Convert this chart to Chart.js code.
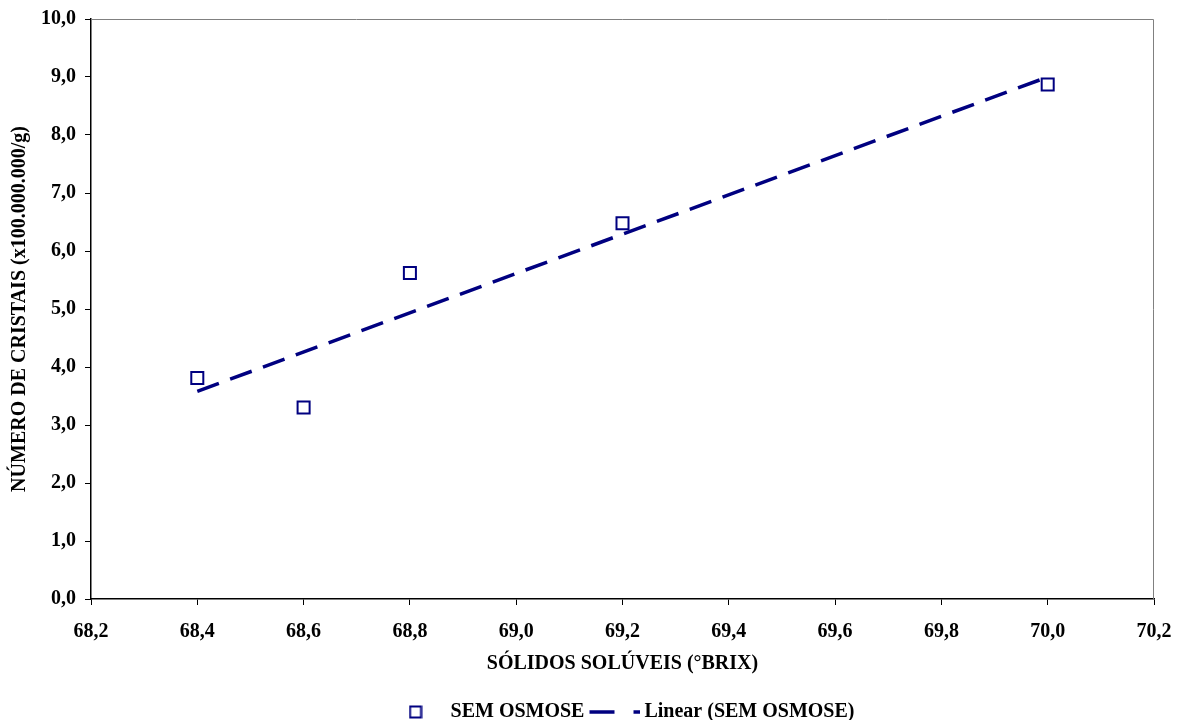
<!DOCTYPE html>
<html lang="pt">
<head>
  <meta charset="UTF-8" />
  <title>Número de cristais x sólidos solúveis</title>
  <script src="https://cdn.jsdelivr.net/npm/chart.js"></script>
  <style>
    html, body { margin: 0; padding: 0; background: #fff; }
    .chart-wrapper { width: 1182px; height: 720px; position: relative; }
  </style>
</head>
<body>
  <div class="chart-wrapper">
    <canvas id="grafico"></canvas>
  </div>

  <script>
    // dados
    const brix = [68.4, 68.6, 68.8, 69.2, 70.0];
    const cristais = [3.81, 3.30, 5.62, 6.48, 8.87];
    // extremos da linha de tendência (Linear)
    const brixTendencia = [68.4, 70.0];
    const cristaisTendencia = [3.58, 9.0];

    const azul = "#000080";
    const fonte = "'Liberation Serif', 'Times New Roman', serif";

    const pontos = brix.map((x, i) => ({ x, y: cristais[i] }));
    const tendencia = brixTendencia.map((x, i) => ({ x, y: cristaisTendencia[i] }));

    const virgula = (v) => Number(v).toFixed(1).replace(".", ",");

    // simbolos da legenda
    function simboloQuadrado() {
      const c = document.createElement("canvas");
      c.width = 14; c.height = 14;
      const g = c.getContext("2d");
      g.fillStyle = "#fff";
      g.fillRect(0, 0, 14, 14);
      g.strokeStyle = azul;
      g.lineWidth = 2;
      g.strokeRect(1.5, 1.5, 11, 11);
      return c;
    }
    function simboloLinha() {
      // 11 px transparentes à esquerda para afastar do texto anterior
      const c = document.createElement("canvas");
      c.width = 62; c.height = 4;
      const g = c.getContext("2d");
      g.strokeStyle = azul;
      g.lineWidth = 3.5;
      g.setLineDash([25, 19]);
      g.beginPath();
      g.moveTo(11, 2);
      g.lineTo(62, 2);
      g.stroke();
      return c;
    }

    // moldura cinza no topo e à direita
    const moldura = {
      id: "moldura",
      beforeDatasetsDraw(chart) {
        const a = chart.chartArea;
        const ctx = chart.ctx;
        ctx.save();
        ctx.strokeStyle = "#808080";
        ctx.lineWidth = 1;
        ctx.beginPath();
        ctx.moveTo(a.left, a.top + 0.5);
        ctx.lineTo(a.right - 0.5, a.top + 0.5);
        ctx.lineTo(a.right - 0.5, a.bottom);
        ctx.stroke();
        ctx.restore();
      }
    };

    const ctx = document.getElementById("grafico").getContext("2d");
    const grafico = new Chart(ctx, {
      type: "scatter",
      data: {
        datasets: [
          {
            label: "SEM OSMOSE",
            data: pontos,
            pointStyle: "rect",
            pointRadius: 8.5,
            pointHoverRadius: 8.5,
            pointBorderWidth: 2,
            borderColor: azul,
            backgroundColor: "#fff",
            legendSimbolo: simboloQuadrado()
          },
          {
            label: "Linear (SEM OSMOSE)",
            type: "line",
            data: tendencia,
            showLine: true,
            borderColor: azul,
            borderWidth: 3.5,
            borderDash: [23, 12],
            pointRadius: 0,
            fill: false,
            legendSimbolo: simboloLinha()
          }
        ]
      },
      options: {
        responsive: true,
        maintainAspectRatio: false,
        animation: false,
        layout: { padding: { left: 8, right: 0, top: 1, bottom: -12 } },
        plugins: {
          tooltip: { enabled: false },
          legend: {
            position: "bottom",
            fullSize: false,
            labels: {
              usePointStyle: true,
              pointStyleWidth: 50,
              boxHeight: 14,
              padding: 0,
              color: "#000",
              font: { family: fonte, size: 20, weight: "bold" },
              generateLabels(chart) {
                return chart.data.datasets.map((ds, i) => ({
                  text: ds.label,
                  pointStyle: ds.legendSimbolo,
                  fillStyle: "#fff",
                  strokeStyle: azul,
                  lineWidth: 0,
                  hidden: false,
                  datasetIndex: i
                }));
              }
            }
          }
        },
        scales: {
          x: {
            type: "linear",
            min: 68.2,
            max: 70.2,
            afterFit(scale) { scale.paddingRight = 28; },
            border: { display: true, color: "#000", width: 1.5 },
            grid: { drawOnChartArea: false, drawTicks: true, tickLength: 6, color: "#000" },
            ticks: {
              stepSize: 0.2,
              color: "#000",
              padding: 17,
              font: { family: fonte, size: 20, weight: "bold", lineHeight: 1 },
              callback: (v) => virgula(v)
            },
            title: {
              display: true,
              text: "SÓLIDOS SOLÚVEIS (°BRIX)",
              color: "#000",
              padding: { top: 0, bottom: 33 },
              font: { family: fonte, size: 20, weight: "bold", lineHeight: 0.5 }
            }
          },
          y: {
            min: 0,
            max: 10,
            border: { display: true, color: "#000", width: 1.5 },
            grid: { drawOnChartArea: false, drawTicks: true, tickLength: 6, color: "#000" },
            ticks: {
              stepSize: 1,
              color: "#000",
              padding: 9,
              font: { family: fonte, size: 20, weight: "bold", lineHeight: 1 },
              callback: (v) => virgula(v)
            },
            title: {
              display: true,
              text: "NÚMERO DE CRISTAIS (x100.000.000/g)",
              color: "#000",
              padding: { top: 0, bottom: 0 },
              font: { family: fonte, size: 20, weight: "bold" }
            }
          }
        }
      },
      plugins: [moldura]
    });
  </script>
</body>
</html>
